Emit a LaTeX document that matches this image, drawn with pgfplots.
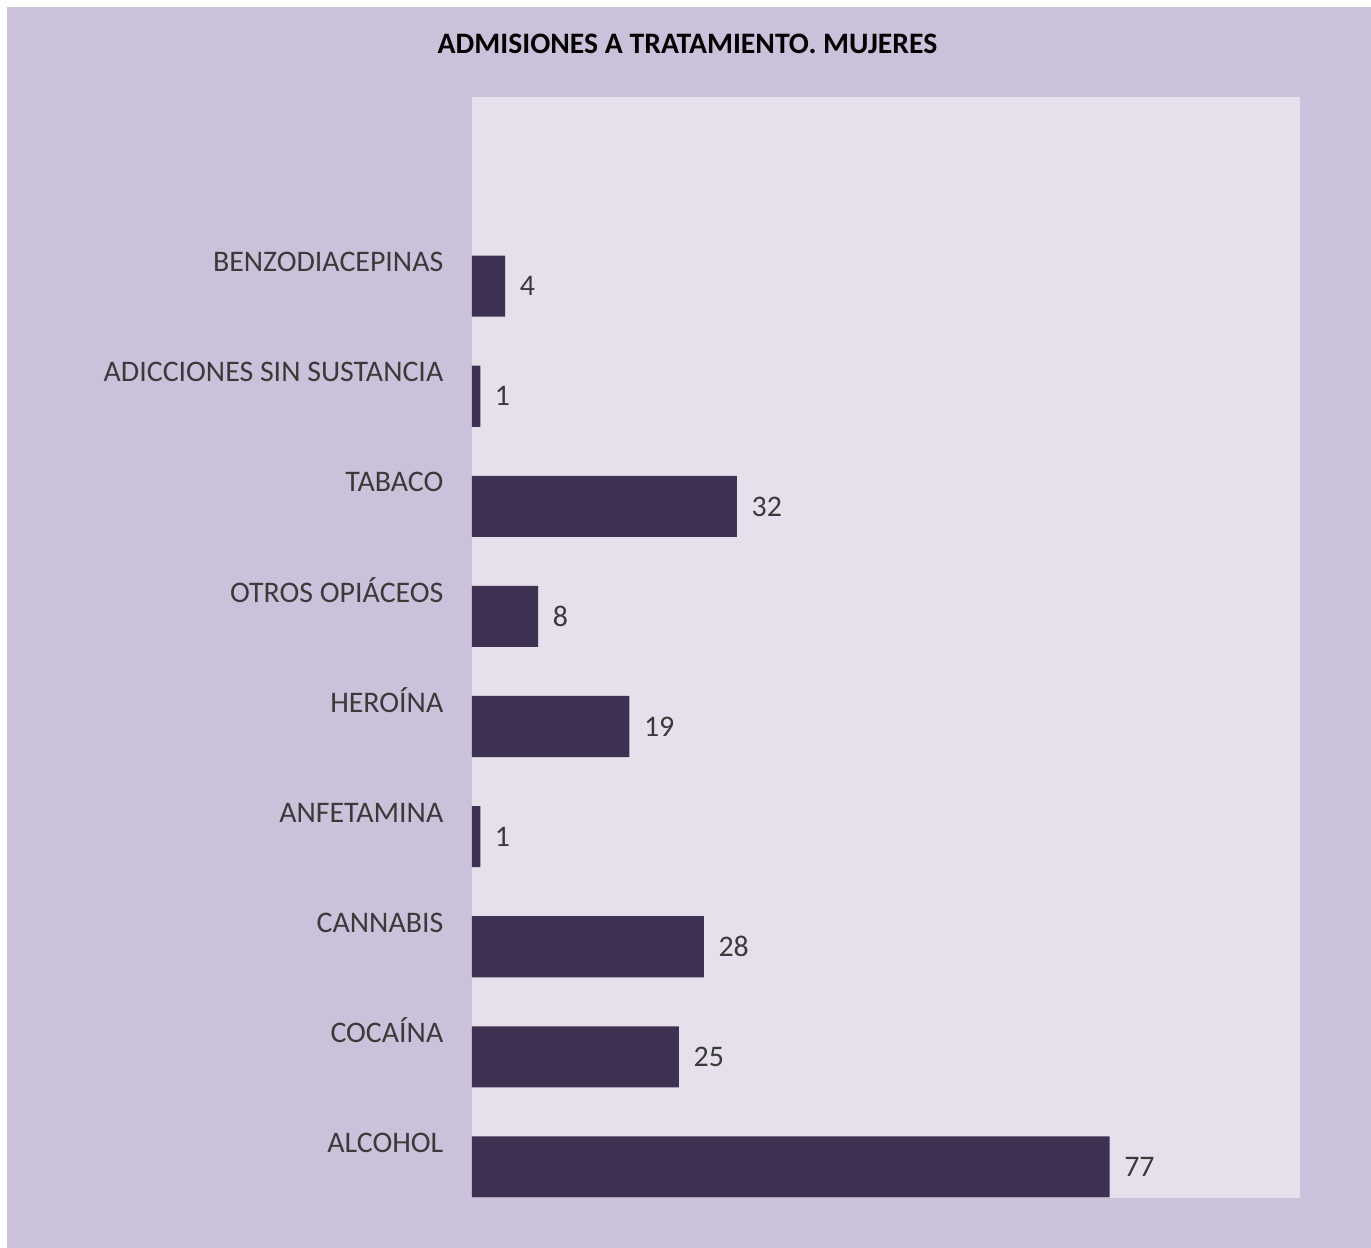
\documentclass[border=0pt]{standalone}
\usepackage{fontspec}
\setmainfont{Carlito}
\usepackage{pgfplots}
\pgfplotsset{compat=1.18}
\definecolor{outerbg}{HTML}{CCC1DA}
\definecolor{plotbg}{HTML}{E5E0EC}
\definecolor{barcol}{HTML}{3F3151}
\definecolor{txt}{HTML}{3A3A3A}

\begin{document}
\begin{tikzpicture}
    % whole picture: 1 px of the reference = 0.1 mm, origin at the plot area's lower left corner
    \useasboundingbox (-47.2mm,-5mm) rectangle (89.9mm,119.8mm);
    \fill[white] (-47.2mm,-5mm) rectangle (89.9mm,119.8mm);
    \fill[outerbg] (-46.5mm,-5mm) rectangle (89.9mm,119.1mm);
    \node[anchor=base, font=\bfseries\fontsize{8.45}{10}\selectfont, text=black]
        at (21.55mm,114.4mm) {ADMISIONES A TRATAMIENTO. MUJERES};
    \begin{axis}[
        at={(0,0)}, anchor=south west,
        scale only axis,
        width=82.8mm,
        height=110.1mm,
        xbar,
        xmin=0, xmax=100,
        ymin=-0.282, ymax=9.718,
        bar width=0.555,
        clip=false,
        /pgf/number format/assume math mode=true,
        axis background/.style={fill=plotbg},
        axis line style={draw=none},
        tick style={draw=none},
        major tick length=0pt,
        xtick=\empty,
        ytick={0.218,1.218,2.218,3.218,4.218,5.218,6.218,7.218,8.218},
        yticklabels={ALCOHOL, COCAÍNA, CANNABIS, ANFETAMINA, HEROÍNA,
            OTROS OPIÁCEOS, TABACO, ADICCIONES SIN SUSTANCIA, BENZODIACEPINAS},
        yticklabel style={anchor=east, inner sep=0pt, xshift=-2.8mm,
            text height=5.5pt, text depth=0pt, text=txt,
            font=\fontsize{8.5}{10}\selectfont},
        nodes near coords,
        every node near coord/.append style={anchor=west, inner sep=0pt,
            xshift=1.4mm, text height=5.5pt, text depth=0pt, text=txt,
            font=\fontsize{8.5}{10}\selectfont},
    ]
    \addplot[fill=barcol, draw=none] coordinates {
        (77,0) (25,1) (28,2) (1,3) (19,4) (8,5) (32,6) (1,7) (4,8)
    };
    \end{axis}
\end{tikzpicture}
\end{document}
